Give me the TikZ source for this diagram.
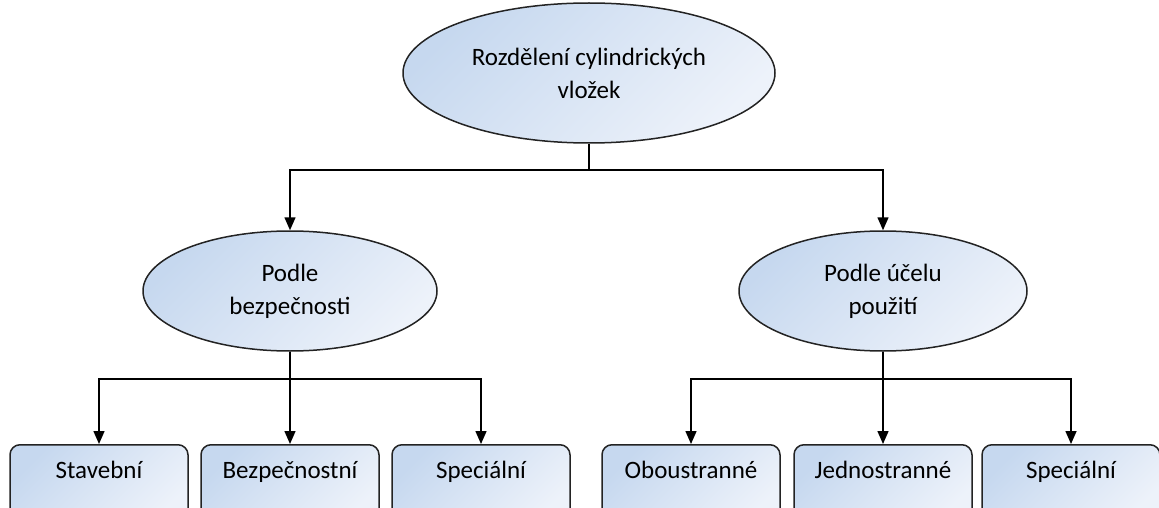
\documentclass[tikz,border=0pt]{standalone}
\usepackage{fontspec}
\setmainfont{Carlito}
\usetikzlibrary{arrows.meta,shapes.geometric}
\definecolor{fillA}{RGB}{198,216,239}
\definecolor{fillB}{RGB}{237,242,250}
\definecolor{edge}{RGB}{35,35,35}
\tikzset{
  shaded/.style={draw=edge, line width=1.5pt, top color=fillA, bottom color=fillB, shading angle=45},
  oval/.style={shaded, ellipse, inner sep=0pt, align=center, font=\fontsize{25}{33}\selectfont},
  leaf/.style={shaded, rectangle, rounded corners=10pt, anchor=north, minimum width=178pt,
    inner ysep=0pt, text height=34pt, text depth=46pt, font=\fontsize{25}{30}\selectfont},
  conn/.style={draw=black, line width=1.5pt},
  arr/.style={conn, -{Triangle[length=13pt,width=11pt]}}
}
\begin{document}
\begin{tikzpicture}[x=1pt,y=-1pt]
\useasboundingbox (0,0) rectangle (1159,508);
\node[oval, minimum width=372pt, minimum height=140pt] (root) at (589,73) {Rozdělení cylindrických\\vložek};
\node[oval, minimum width=294pt, minimum height=120pt] (left) at (290,291) {Podle\\bezpečnosti};
\node[oval, minimum width=288pt, minimum height=120pt] (right) at (883,291) {Podle účelu\\použití};

\node[leaf] (b1) at (99,444) {Stavební};
\node[leaf] (b2) at (290,444) {Bezpečnostní};
\node[leaf] (b3) at (481,444) {Speciální};
\node[leaf] (b4) at (691,444) {Oboustranné};
\node[leaf] (b5) at (883,444) {Jednostranné};
\node[leaf] (b6) at (1071,444) {Speciální};

\coordinate (j0) at (589,170);
\coordinate (jl) at (290,379);
\coordinate (jr) at (883,379);

\draw[conn] (root) -- (j0);
\draw[arr] (j0) -| (left);
\draw[arr] (j0) -| (right);

\draw[conn] (left) -- (jl);
\draw[arr] (jl) -| (b1.north);
\draw[arr] (jl) -- (b2.north);
\draw[arr] (jl) -| (b3.north);

\draw[conn] (right) -- (jr);
\draw[arr] (jr) -| (b4.north);
\draw[arr] (jr) -- (b5.north);
\draw[arr] (jr) -| (b6.north);
\end{tikzpicture}
\end{document}
